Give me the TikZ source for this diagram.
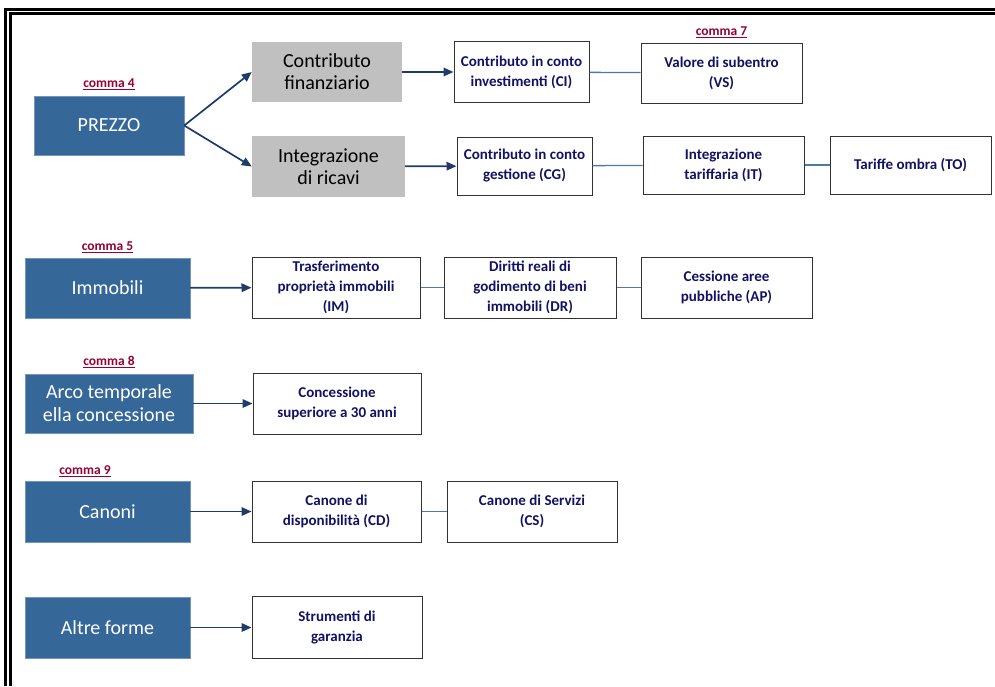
\documentclass[tikz,border=0pt]{standalone}
\usepackage{fontspec}
\setmainfont{Carlito}
\usepackage{xcolor}
\usepackage{tikz}
\usetikzlibrary{arrows.meta,positioning}

\definecolor{boxblue}{RGB}{53,103,153}
\definecolor{boxgray}{RGB}{192,192,192}
\definecolor{navytext}{RGB}{18,18,100}
\definecolor{commared}{RGB}{150,0,50}
\definecolor{arrowblue}{RGB}{30,60,105}
\definecolor{linkblue}{RGB}{80,120,160}

\begin{document}
\begin{tikzpicture}[
    x=1pt, y=-1pt,
    category/.style={rectangle, fill=boxblue, draw=boxblue!70!white, text=white, minimum width=165pt, minimum height=60pt, font=\fontsize{20}{23}\selectfont, align=center, inner sep=0pt},
    channel/.style={rectangle, fill=boxgray, minimum width=150pt, minimum height=60pt, font=\fontsize{20}{22}\selectfont, align=center, inner sep=0pt},
    instrument/.style={rectangle, draw=black!80, line width=1pt, fill=white, text=navytext, minimum height=60pt, font=\bfseries\fontsize{15}{20}\selectfont, align=center, inner sep=0pt},
    comma/.style={text=commared, font=\bfseries\fontsize{13.5}{14}\selectfont, inner sep=1pt},
    arrow/.style={-{Triangle[length=10pt,width=8.5pt]}, draw=arrowblue, fill=arrowblue, line width=1.7pt},
    link/.style={draw=linkblue, line width=1.3pt}
]
    \useasboundingbox (0,0) rectangle (995,686);

    % Frame
    \coordinate (frame bottom) at (8,686);
    \coordinate (frame right) at (995,11.5);
    \draw[line width=3pt, double distance=1.2pt] (frame bottom) |- (frame right);

    % Prezzo (comma 4)
    \node[category, minimum width=150pt, minimum height=59pt] (prezzo) at (109,125.5) {PREZZO};
    \node[channel] (finanz) at (327,72) {Contributo\\finanziario};
    \node[channel, minimum width=153pt, minimum height=61pt] (ricavi) at (328.5,166.5) {Integrazione\\di ricavi};
    \node[instrument, minimum width=135pt, minimum height=61pt] (ci) at (521.5,72) {Contributo in conto\\investimenti (CI)};
    \node[instrument, minimum width=161pt] (vs) at (721.5,73) {Valore di subentro\\(VS)};
    \node[instrument, minimum width=135pt, minimum height=58pt] (cg) at (524.5,166) {Contributo in conto\\gestione (CG)};
    \node[instrument, minimum width=161pt, minimum height=58pt] (it) at (723.5,165) {Integrazione\\tariffaria (IT)};
    \node[instrument, minimum width=161pt, minimum height=58pt] (to) at (910.5,165) {Tariffe ombra (TO)};

    % Immobili (comma 5)
    \node[category] (immobili) at (107.5,288) {Immobili};
    \node[instrument, minimum width=168pt, minimum height=61pt] (im) at (336,287.5) {Trasferimento\\propriet\`a immobili\\(IM)};
    \node[instrument, minimum width=172pt, minimum height=61pt] (dr) at (530,287.5) {Diritti reali di\\godimento di beni\\immobili (DR)};
    \node[instrument, minimum width=171pt, minimum height=61pt] (ap) at (726.5,287.5) {Cessione aree\\pubbliche (AP)};

    % Arco temporale (comma 8)
    \node[category, minimum width=168pt, minimum height=59pt] (arco) at (109,403.5) {Arco temporale\\ella concessione};
    \node[instrument, minimum width=168pt, minimum height=61pt] (conc) at (337,403.5) {Concessione\\superiore a 30 anni};

    % Canoni (comma 9)
    \node[category, minimum height=61pt] (canoni) at (107.5,511.5) {Canoni};
    \node[instrument, minimum width=169pt, minimum height=61pt] (cd) at (336.5,511.5) {Canone di\\disponibilit\`a (CD)};
    \node[instrument, minimum width=170pt, minimum height=61pt] (cs) at (532,511.5) {Canone di Servizi\\(CS)};

    % Altre forme
    \node[category, minimum height=61pt] (altre) at (107.5,627.5) {Altre forme};
    \node[instrument, minimum width=170pt, minimum height=62pt] (strum) at (337,627.5) {Strumenti di\\garanzia};

    % Commi
    \node[comma, above=5pt of prezzo] (comma4) {\underline{comma 4}};
    \node[comma, above=4pt of vs] (comma7) {\underline{comma 7}};
    \node[comma, above=4pt of immobili] (comma5) {\underline{comma 5}};
    \node[comma, above=5pt of arco] (comma8) {\underline{comma 8}};
    \node[comma, above=3pt of canoni, xshift=-22.5pt] (comma9) {\underline{comma 9}};

    % Arrows
    \draw[arrow] (prezzo.east) -- (finanz.west);
    \draw[arrow] (prezzo.east) -- (ricavi.west);
    \draw[arrow] (finanz) -- (ci);
    \draw[arrow] (ricavi) -- (cg);
    \draw[arrow] (immobili) -- (im);
    \draw[arrow] (arco) -- (conc);
    \draw[arrow] (canoni) -- (cd);
    \draw[arrow] (altre) -- (strum);

    % Links
    \draw[link] (ci) -- (vs);
    \draw[link] (cg) -- (it);
    \draw[link] (it) -- (to);
    \draw[link] (im) -- (dr);
    \draw[link] (dr) -- (ap);
    \draw[link] (cd) -- (cs);
\end{tikzpicture}
\end{document}
